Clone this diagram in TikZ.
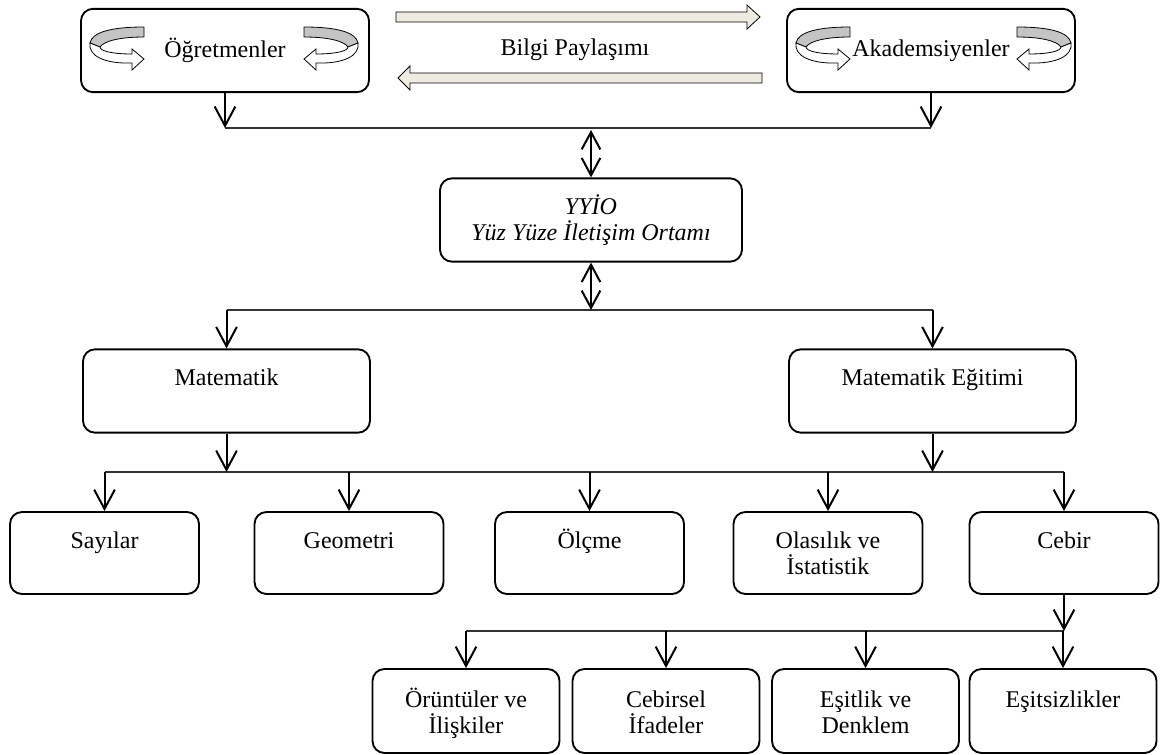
\documentclass[tikz,border=0pt]{standalone}
\usepackage{fontspec}
\setmainfont{Liberation Serif}
\usetikzlibrary{arrows.meta,calc}
\definecolor{bandtan}{HTML}{EEECE1}
\definecolor{ringgray}{HTML}{C4C4C4}
\newcommand{\fstrut}{\rule{0pt}{17pt}}

\tikzset{
  box/.style={draw, line width=1.4pt, rounded corners=9pt, inner sep=0pt,
              minimum width=#1, minimum height=62.5pt},
  lbl/.style={anchor=north, inner sep=0pt, align=center},
  conn/.style={line width=1.5pt, -{Straight Barb[length=14.5pt,width=15.5pt]}},
  dconn/.style={line width=1.5pt,
    {Straight Barb[length=13pt,width=14pt]}-{Straight Barb[length=13pt,width=14pt]}},
  bus/.style={line width=0.9pt, black!80},
  % circular ring arrow; origin at the arrow tip column
  ringarrow/.pic={
    \draw[fill=ringgray, line width=0.6pt]
      (0,27) .. controls (-32,27) and (-52,32) .. (-54,43)
      -- (-44,47) .. controls (-40,41) and (-24,37) .. (0,37) -- cycle;
    \draw[fill=white, line width=0.6pt]
      (-54,43) .. controls (-56,56) and (-39,64) .. (-12,63)
      -- (-12,70) -- (0,59) -- (-12,49) -- (-12,54)
      .. controls (-32,54) and (-44,51) .. (-44,47) -- cycle;
  }
}

\begin{document}
\begin{tikzpicture}[x=0.75pt,y=-0.75pt, font=\fontsize{18}{20}\selectfont]
\useasboundingbox (0,0) rectangle (1163,755);

% top row: the two groups
\node[box=216pt] (ogr) at (225,50.5) {Öğretmenler};
\node[box=216pt] (aka) at (931,50.5) {Akademsiyenler};
\pic at (144,0) {ringarrow};
\pic[xscale=-1] at (304,0) {ringarrow};
\pic at (850,0) {ringarrow};
\pic[xscale=-1] at (1017,0) {ringarrow};

% knowledge sharing block arrows
\draw[fill=bandtan, line width=0.6pt]
  (396,12) -- (747,12) -- (747,5) -- (760,17) -- (747,29) -- (747,22) -- (396,22) -- cycle;
\draw[fill=bandtan, line width=0.6pt]
  (762,73) -- (410,73) -- (410,66) -- (398,78) -- (410,90) -- (410,83) -- (762,83) -- cycle;
\node (share) at (575,50) {Bilgi Paylaşımı};

% face-to-face environment
\node[box=226.5pt, align=center, font=\fontsize{18}{20}\selectfont\itshape] (yyio) at (591,220)
  {YYİO\\Yüz Yüze İletişim Ortamı};

% second level
\node[box=215.25pt] (mat) at (226.5,391) {};
\node[box=215.25pt] (egt) at (932.5,391) {};
\node[lbl] (matT) at ($(mat.north)+(0,14)$) {\fstrut Matematik};
\node[lbl] (egtT) at ($(egt.north)+(0,14)$) {\fstrut Matematik Eğitimi};

% learning areas
\foreach \n/\x/\t in {say/104.5/Sayılar, geo/349/Geometri, olc/589.5/Ölçme,
                      ola/828/{Olasılık ve\\İstatistik}, ceb/1064/Cebir}{
  \node[box=141.75pt, minimum height=61.5pt] (\n) at (\x,553) {};
  \node[lbl] (\n T) at ($(\n.north)+(0,14)$) {\fstrut \t};
}

% algebra sub-areas
\foreach \n/\x/\t in {oru/466/{Örüntüler ve\\İlişkiler}, cbs/666/{Cebirsel\\İfadeler},
                      esi/865.5/{Eşitlik ve\\Denklem}, esz/1063/Eşitsizlikler}{
  \node[box=140.25pt, minimum height=63pt] (\n) at (\x,711) {};
  \node[lbl] (\n T) at ($(\n.north)+(0,16)$) {\fstrut \t};
}

% bus levels
\coordinate (busA) at (0,128);
\coordinate (busB) at (0,310);
\coordinate (busC) at (0,472);
\coordinate (busD) at (0,631);

% groups -> environment
\draw[bus] (ogr.south |- busA) -- (aka.south |- busA);
\draw[conn] (ogr.south) -- (ogr.south |- busA);
\draw[conn] (aka.south) -- (aka.south |- busA);
\draw[dconn] ($(yyio.north |- busA)+(0,2)$) -- (yyio.north);

% environment -> fields
\draw[bus] (mat.north |- busB) -- (egt.north |- busB);
\draw[dconn] (yyio.south) -- (yyio.south |- busB);
\draw[conn] (mat.north |- busB) -- (mat.north);
\draw[conn] (egt.north |- busB) -- (egt.north);

% fields -> learning areas
\draw[bus] (say.north |- busC) -- (ceb.north |- busC);
\draw[conn] (mat.south) -- (mat.south |- busC);
\draw[conn] (egt.south) -- (egt.south |- busC);
\foreach \n in {say,geo,olc,ola,ceb}
  \draw[conn] (\n.north |- busC) -- (\n.north);

% algebra -> sub-areas
\draw[bus] (oru.north |- busD) -- (ceb.south |- busD);
\draw[conn] (ceb.south) -- (ceb.south |- busD);
\foreach \n in {oru,cbs,esi,esz}
  \draw[conn] (\n.north |- busD) -- (\n.north);
\end{tikzpicture}
\end{document}
